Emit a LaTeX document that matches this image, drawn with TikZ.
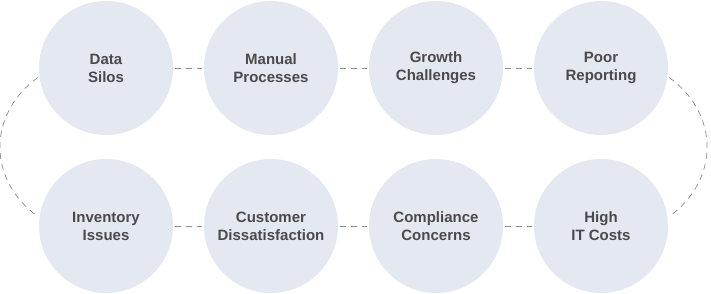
\documentclass[tikz,border=0pt]{standalone}
\usepackage{fontspec}
\setmainfont{Liberation Sans}
\usepackage{xcolor}
\usetikzlibrary{positioning}

\definecolor{bubblefill}{HTML}{E4E8F1}
\definecolor{bubbletext}{HTML}{4A4A4A}
\definecolor{linkgray}{HTML}{8C8C8C}

\tikzset{
    bubble/.style={circle, fill=bubblefill, minimum size=134pt, inner sep=0pt,
        outer sep=2pt, align=center, text=bubbletext,
        font=\fontsize{15}{18}\selectfont\bfseries},
    link/.style={draw=linkgray, line width=0.7pt, dash pattern=on 6pt off 5pt}
}

\begin{document}
\begin{tikzpicture}[x=1pt, y=1pt]
    \useasboundingbox (0,0) rectangle (711,294);

    % Top row
    \node[bubble] (silos) at (106,226) {Data\\Silos};
    \node[bubble] (manual) at (271,226) {Manual\\Processes};
    \node[bubble] (growth) at (436,226) {Growth\\Challenges};
    \node[bubble] (reporting) at (601,226) {Poor\\Reporting};

    % Bottom row
    \node[bubble] (inventory) at (106,68) {Inventory\\Issues};
    \node[bubble] (customer) at (271,68) {Customer\\Dissatisfaction};
    \node[bubble] (compliance) at (436,68) {Compliance\\Concerns};
    \node[bubble] (itcosts) at (601,68) {High\\IT Costs};

    % Dashed links between neighbours
    \draw[link] (silos) -- (manual);
    \draw[link] (manual) -- (growth);
    \draw[link] (growth) -- (reporting);
    \draw[link] (inventory) -- (customer);
    \draw[link] (customer) -- (compliance);
    \draw[link] (compliance) -- (itcosts);

    % Side loops
    \draw[link] (silos.188) to[out=216, in=144, looseness=1.15] (inventory.172);
    \draw[link] (reporting.352) to[out=-36, in=36, looseness=1.15] (itcosts.8);
\end{tikzpicture}
\end{document}
